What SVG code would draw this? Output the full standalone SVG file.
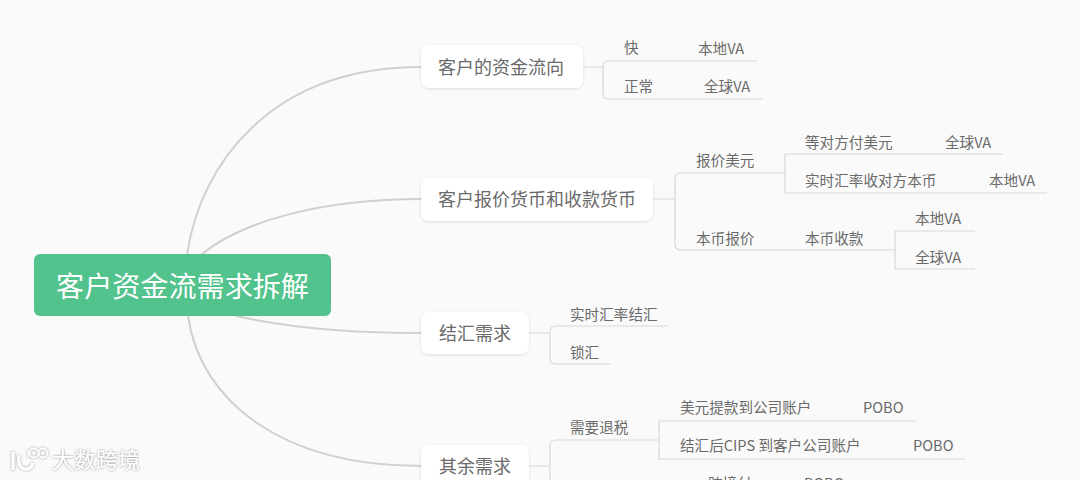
<svg xmlns="http://www.w3.org/2000/svg" width="1080" height="480" viewBox="0 0 1080 480">
<defs>
<filter id="sh" x="-10%" y="-20%" width="120%" height="150%"><feDropShadow dx="0" dy="1" stdDeviation="1.5" flood-color="#000" flood-opacity="0.12"/></filter>
<filter id="wm" x="-10%" y="-20%" width="120%" height="150%"><feDropShadow dx="0" dy="0" stdDeviation="1" flood-color="#555" flood-opacity="0.7"/></filter>
</defs>
<style>
text{font-family:"Noto Sans CJK SC","Noto Sans",sans-serif;fill:#6a6a6a}
.b{font-size:18px;text-anchor:middle}
.l{font-size:14.6px}
.c path{fill:none;stroke:#d8d8d8;stroke-width:1.2}
.c path.m{stroke:#d0d0d0;stroke-width:2}
.n{fill:#fff;filter:url(#sh)}
</style>
<rect width="1080" height="480" fill="#fafafa"/>
<g id="connectors" class="c">
<path class="m" d="M187 255C200 165 270 67 421 67"/>
<path class="m" d="M201 255C240 222 320 199 421 199"/>
<path class="m" d="M236 316C290 328 350 333 421 333"/>
<path class="m" d="M188 316C200 400 280 466 421 466"/>
<path d="M582 67H603M603 67Q603 61 609 61H757M603 67V94Q603 99 608 99H763"/>
<path d="M653 199H675M675 199V179Q675 173 681 173H785M675 199V244Q675 250 681 250H895"/>
<path d="M785 154H1003M785 154V193H1047M785 173V154"/>
<path d="M895 231H975M895 231V269H975"/>
<path d="M529 333H550M550 333V332Q550 326 556 326H668M550 333V359Q550 364 556 364H611"/>
<path d="M529 466H550M550 466V446Q550 440 556 440H659M550 466V480"/>
<path d="M659 421H916M659 421V459H965"/>
</g>
<g id="root"><rect x="34" y="254" width="297" height="62" rx="6" fill="#52c38c"/><text x="182.500" y="297" font-size="28.100px" text-anchor="middle" style="fill:#fff">客户资金流需求拆解</text></g>
<g id="n1"><rect class="n" x="421" y="45" width="162" height="43" rx="8"/><text class="b" x="501" y="74">客户的资金流向</text></g>
<g id="n2"><rect class="n" x="421" y="178" width="232" height="43" rx="8"/><text class="b" x="537" y="206">客户报价货币和收款货币</text></g>
<g id="n3"><rect class="n" x="421" y="312" width="108" height="42" rx="8"/><text class="b" x="475" y="340">结汇需求</text></g>
<g id="n4"><rect class="n" x="421" y="445" width="108" height="43" rx="8"/><text class="b" x="475" y="472.500">其余需求</text></g>
<g id="labels">
<text class="l" x="624" y="53">快</text><text class="l" x="698" y="53.500">本地VA</text>
<text class="l" x="624" y="91.500">正常</text><text class="l" x="704" y="91.500">全球VA</text>
<text class="l" x="696" y="166">报价美元</text>
<text class="l" x="805" y="147.500">等对方付美元</text><text class="l" x="945" y="147.500">全球VA</text>
<text class="l" x="805" y="186">实时汇率收对方本币</text><text class="l" x="989" y="186">本地VA</text>
<text class="l" x="696" y="243.500">本币报价</text><text class="l" x="805" y="243.500">本币收款</text>
<text class="l" x="915" y="224">本地VA</text><text class="l" x="915" y="262.500">全球VA</text>
<text class="l" x="570" y="319.500">实时汇率结汇</text><text class="l" x="570" y="358">锁汇</text>
<text class="l" x="570" y="433">需要退税</text>
<text class="l" x="680" y="413">美元提款到公司账户</text><text class="l" x="863" y="413">POBO</text>
<text class="l" x="680" y="451">结汇后CIPS 到客户公司账户</text><text class="l" x="913" y="451">POBO</text>
<text class="l" x="708" y="489">跨境付</text><text class="l" x="804" y="489">POBO</text>
</g>
<g id="watermark" filter="url(#wm)">
<text x="52" y="468" font-size="22px" style="fill:#fff">大数跨境</text>
<path d="M13 452V470M19 455Q17 466 24 469Q31 470 33 463" fill="none" stroke="#fff" stroke-width="3"/>
<path d="M28 457V450" fill="none" stroke="#fff" stroke-width="1.500"/>
<circle cx="34" cy="453" r="4.500" fill="none" stroke="#fff" stroke-width="1.800"/><circle cx="43" cy="453" r="4.500" fill="none" stroke="#fff" stroke-width="1.800"/>
</g>
</svg>
